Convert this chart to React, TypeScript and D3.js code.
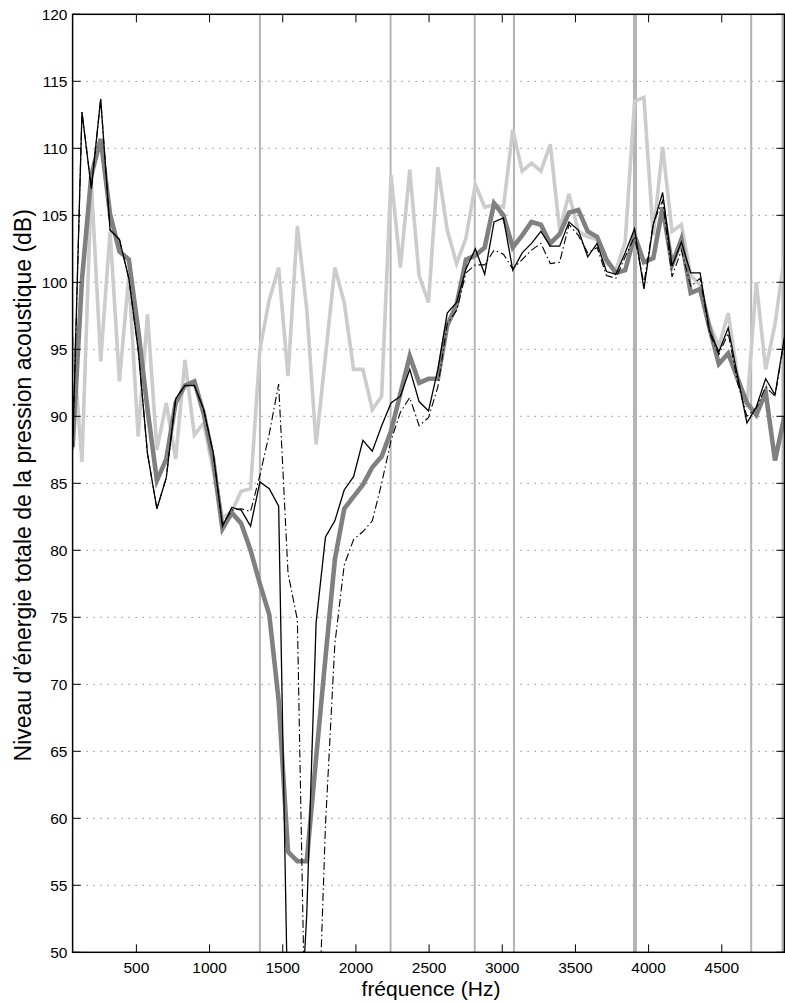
import React from "react";
import * as d3 from "d3";

// frequency bins (Hz), 64 Hz step
const freqs = [
  64, 128, 192, 256, 320, 384, 448, 512, 576, 640, 704, 768, 832, 896, 960, 1024,
  1088, 1152, 1216, 1280, 1344, 1408, 1472, 1536, 1600, 1664, 1728, 1792, 1856, 1920,
  1984, 2048, 2112, 2176, 2240, 2304, 2368, 2432, 2496, 2560, 2624, 2688, 2752, 2816,
  2880, 2944, 3008, 3072, 3136, 3200, 3264, 3328, 3392, 3456, 3520, 3584, 3648, 3712,
  3776, 3840, 3904, 3968, 4032, 4096, 4160, 4224, 4288, 4352, 4416, 4480, 4544, 4608,
  4672, 4736, 4800, 4864, 4928,
];

const lightSeries = [
  95.9, 86.6, 107.5, 94.1, 103.8, 92.6, 100.5, 88.5, 97.6, 87.5,
  91.0, 86.8, 94.2, 88.6, 89.5, 86.0, 82.4, 82.9, 84.4, 84.6,
  95.0, 98.7, 101.1, 93.0, 104.2, 98.0, 87.9, 94.5, 101.1, 98.5,
  93.5, 93.5, 90.5, 91.5, 108.0, 101.1, 108.4, 100.5, 98.5, 108.6,
  103.9, 101.4, 103.3, 107.3, 105.6, 105.8, 105.6, 111.4, 108.3, 108.9,
  108.3, 110.3, 103.9, 106.6, 103.8, 103.4, 103.2, 101.4, 100.9, 103.0,
  113.5, 113.8, 103.5, 110.1, 103.8, 104.3, 100.5, 99.8, 96.9, 95.2,
  97.7, 93.0, 90.7, 100.0, 93.5, 96.9, 101.9,
];

const graySeries = [
  87.7, 100.2, 108.0, 110.7, 105.1, 102.3, 101.7, 96.5, 90.5, 85.2,
  86.8, 91.0, 92.3, 92.6, 90.2, 86.8, 81.6, 82.8, 82.0, 80.0,
  77.5, 75.2, 68.8, 57.5, 56.8, 56.8, 64.5, 72.0, 79.3, 83.1,
  84.0, 84.9, 86.2, 87.0, 88.9, 91.7, 94.5, 92.5, 92.8, 92.8,
  96.8, 98.3, 101.7, 102.0, 102.6, 105.9, 105.0, 102.6, 103.5, 104.5,
  104.3, 102.9, 103.6, 105.2, 105.4, 103.8, 103.4, 101.7, 100.7, 100.9,
  103.5, 101.5, 101.8, 105.6, 101.3, 103.2, 99.2, 99.5, 96.6, 93.9,
  94.7, 92.8, 91.0, 90.1, 91.8, 86.7, 90.0,
];

const blackSeries = [
  87.5, 112.7, 107.0, 113.7, 103.9, 103.2, 100.3, 95.0, 87.2, 83.1,
  85.4, 91.3, 92.3, 92.3, 90.5, 87.3, 81.8, 83.2, 83.0, 81.8,
  85.1, 84.6, 83.3, 44.5, 40.0, 52.8, 74.6, 81.0, 82.2, 84.5,
  85.5, 88.2, 87.4, 89.3, 91.0, 91.5, 93.5, 91.1, 90.4, 93.5,
  97.7, 98.5, 101.0, 102.5, 100.6, 104.5, 104.8, 100.9, 102.2, 102.9,
  103.8, 102.7, 102.7, 104.5, 103.9, 101.9, 102.9, 100.8, 100.6, 102.2,
  104.0, 99.5, 104.3, 106.7, 101.2, 103.0, 100.7, 100.7, 96.4, 94.8,
  96.6, 93.0, 89.5, 90.7, 92.8, 91.6, 95.9,
];

const dashDotSeries = [
  87.5, 112.7, 107.0, 113.7, 103.9, 103.2, 100.3, 95.0, 87.2, 83.1,
  85.4, 91.3, 92.3, 92.3, 90.5, 87.3, 81.9, 83.0, 83.1, 82.9,
  85.6, 88.7, 92.4, 78.3, 74.8, 37.0, 39.0, 59.5, 73.0, 78.9,
  80.8, 81.4, 82.2, 85.0, 88.2, 90.3, 91.4, 89.3, 89.9, 92.2,
  96.9, 97.9, 100.7, 101.3, 101.3, 102.4, 102.1, 101.0, 101.7, 102.4,
  102.9, 101.4, 101.5, 104.3, 103.5, 102.2, 102.6, 100.5, 100.3, 101.9,
  103.4, 99.9, 104.4, 106.1, 100.4, 102.4, 99.7, 100.3, 96.2, 94.6,
  96.2, 92.5, 90.0, 90.6, 92.2, 91.5, 95.7,
];

// vertical marker frequencies (Hz)
const markerFreqs = [1344, 2237, 2812, 3080, 3907, 4701, 4915];

const xTicks = [500, 1000, 1500, 2000, 2500, 3000, 3500, 4000, 4500];
const yTicks = [50, 55, 60, 65, 70, 75, 80, 85, 90, 95, 100, 105, 110, 115, 120];

const W = 785;
const H = 1002;
const LEFT = 72.6;
const RIGHT = 784.4;
const TOP = 14.3;
const BOTTOM = 952.3;
const TICK = 8;

const App = () => {
  const x = d3.scaleLinear().domain([64, 4928]).range([LEFT, RIGHT]);
  const y = d3.scaleLinear().domain([50, 120]).range([BOTTOM, TOP]);

  const line = d3
    .line<number>()
    .x((d, i) => x(freqs[i]))
    .y(d => y(d));

  const font = "'Liberation Sans', Arial, Helvetica, sans-serif";

  return (
    <svg
      width={W}
      height={H}
      style={{ position: "absolute", left: 0, top: 0, background: "#fff" }}
      fontFamily={font}
    >
      <defs>
        <clipPath id="plot">
          <rect x={LEFT} y={TOP} width={RIGHT - LEFT} height={BOTTOM - TOP} />
        </clipPath>
      </defs>
      <rect x={0} y={0} width={W} height={H} fill="#fff" />

      {/* horizontal dotted grid */}
      {yTicks.slice(1, -1).map(t => (
        <line
          key={"g" + t}
          x1={LEFT}
          x2={RIGHT}
          y1={y(t)}
          y2={y(t)}
          stroke="#555"
          strokeWidth={1}
          strokeDasharray="1,6"
        />
      ))}

      <g clipPath="url(#plot)">
        {markerFreqs.map(f => (
          <line
            key={"m" + f}
            x1={x(f)}
            x2={x(f)}
            y1={TOP}
            y2={BOTTOM}
            stroke="#b4b4b4"
            strokeWidth={f === 3907 ? 4 : 2}
          />
        ))}
        <path d={line(lightSeries) || ""} fill="none" stroke="#cccccc" strokeWidth={3.6} />
        <path d={line(graySeries) || ""} fill="none" stroke="#808080" strokeWidth={4.6} />
        <path
          d={line(dashDotSeries) || ""}
          fill="none"
          stroke="#000"
          strokeWidth={1.1}
          strokeDasharray="8,3,1.5,3"
        />
        <path d={line(blackSeries) || ""} fill="none" stroke="#000" strokeWidth={1.3} />
      </g>

      {/* frame */}
      <rect
        x={LEFT}
        y={TOP}
        width={RIGHT - LEFT}
        height={BOTTOM - TOP}
        fill="none"
        stroke="#000"
        strokeWidth={1.5}
      />

      {xTicks.map(t => (
        <g key={"x" + t}>
          <line x1={x(t)} x2={x(t)} y1={BOTTOM} y2={BOTTOM - TICK} stroke="#000" />
          <line x1={x(t)} x2={x(t)} y1={TOP} y2={TOP + TICK} stroke="#000" />
          <text x={x(t)} y={973} textAnchor="middle" fontSize={15.5}>
            {t}
          </text>
        </g>
      ))}
      {yTicks.map(t => (
        <g key={"y" + t}>
          <line x1={LEFT} x2={LEFT + TICK} y1={y(t)} y2={y(t)} stroke="#000" />
          <line x1={RIGHT} x2={RIGHT - TICK} y1={y(t)} y2={y(t)} stroke="#000" />
          <text x={67.5} y={y(t)} dy="0.36em" textAnchor="end" fontSize={15.5}>
            {t}
          </text>
        </g>
      ))}

      <text x={431} y={995.5} textAnchor="middle" fontSize={21}>
        fréquence (Hz)
      </text>
      <text
        transform={`translate(31, ${(TOP + BOTTOM) / 2 + 2}) rotate(-90)`}
        textAnchor="middle"
        fontSize={23}
      >
        Niveau d’énergie totale de la pression acoustique (dB)
      </text>
    </svg>
  );
};

export default App;
